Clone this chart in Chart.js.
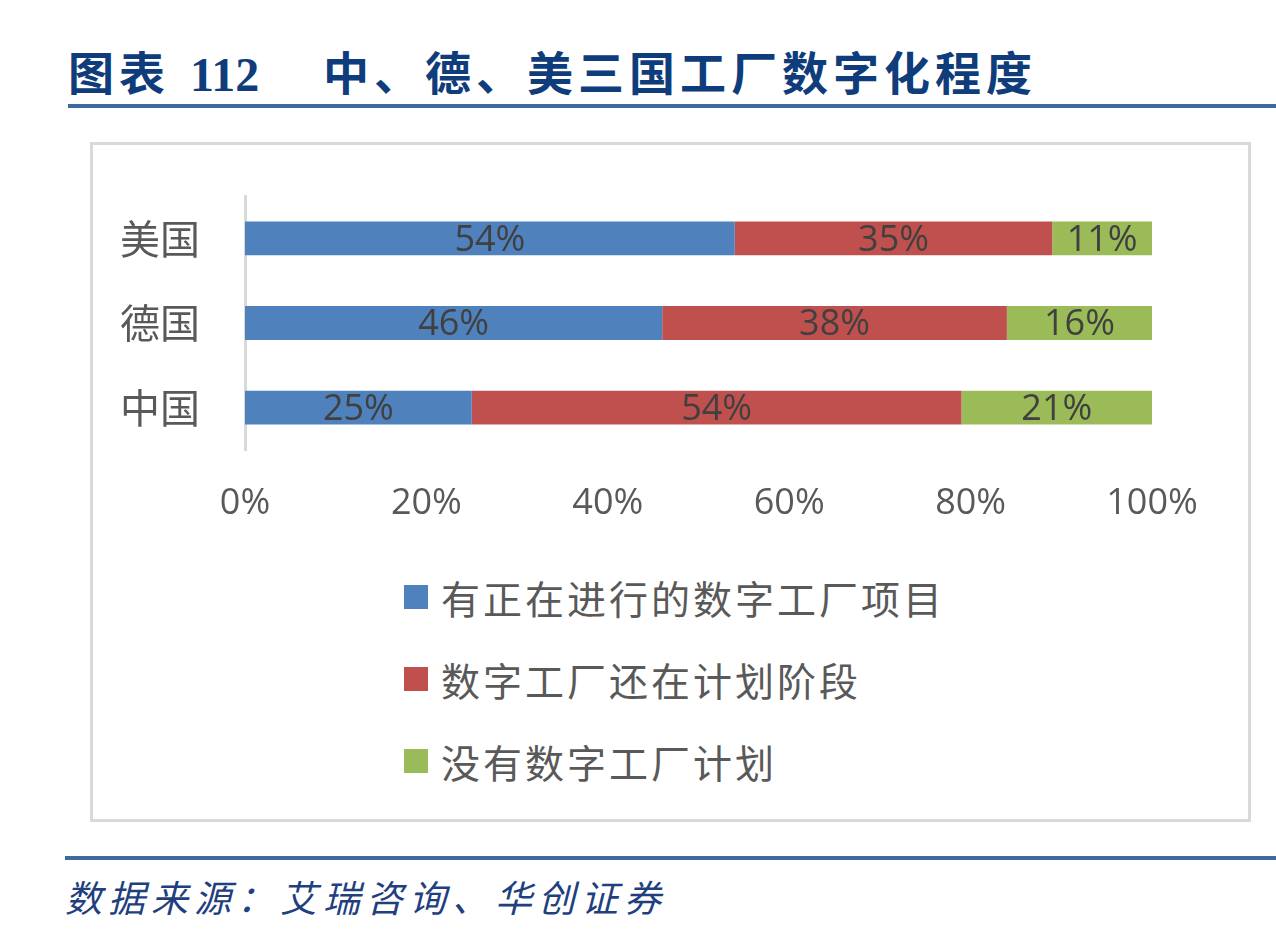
<!DOCTYPE html>
<html>
<head>
<meta charset="utf-8">
<script src="https://cdn.jsdelivr.net/npm/chart.js@4/dist/chart.umd.min.js"></script>
<style>
  body { margin: 0; width: 1276px; height: 940px; background: #fff; position: relative; overflow: hidden; }
  .title { position: absolute; top: 46px; font-family: "Liberation Serif", "Noto Sans CJK SC"; font-weight: bold; font-size: 46px; color: #0f3d7b; white-space: nowrap; line-height: 58px; letter-spacing: 5px; }
  .rule { position: absolute; height: 4px; background: #3e6a9e; right: 0; }
  .box { position: absolute; left: 90px; top: 142px; width: 1161px; height: 680px; border: 3px solid #d9d9d9; box-sizing: border-box; }
  .chart-wrap { position: absolute; left: 93px; top: 145px; width: 1155px; height: 400px; }
  .legend { position: absolute; left: 404px; top: 556px; font-family: "Noto Sans CJK SC"; font-size: 39px; color: #595959; letter-spacing: 3px; }
  .legend .item { height: 82px; display: flex; align-items: center; }
  .legend .sw { width: 24px; height: 24px; margin-right: 13px; }
  .source { position: absolute; left: 65px; top: 871px; font-family: "Noto Sans CJK SC"; font-style: italic; font-size: 37px; color: #1f3f7f; letter-spacing: 6px; line-height: 50px; }
</style>
</head>
<body>
<div class="title" style="left:68px;">图表</div>
<div class="title" style="left:190px; font-size:48px; letter-spacing:0;">112</div>
<div class="title" style="left:323px;">中、德、美三国工厂数字化程度</div>
<div class="rule" style="left:68px; top:104px;"></div>
<div class="box"></div>
<div class="chart-wrap"><canvas id="myChart"></canvas></div>
<div class="legend" id="legend"></div>
<div class="rule" style="left:65px; top:856px;"></div>
<div class="source">数据来源：艾瑞咨询、华创证券</div>
<script>
// Categories (top to bottom) and series values in percent
const countries = ['美国', '德国', '中国'];
const seriesNames = ['有正在进行的数字工厂项目', '数字工厂还在计划阶段', '没有数字工厂计划'];
const ongoing = [54, 46, 25];
const planning = [35, 38, 54];
const noPlan = [11, 16, 21];
const xTicks = [0, 20, 40, 60, 80, 100];

const colors = ['#4f81bd', '#c0504d', '#9bbb59'];

// Draw the value in the middle of each bar segment
const barLabels = {
    id: 'barLabels',
    afterDatasetsDraw(chart) {
        const ctx = chart.ctx;
        ctx.save();
        ctx.font = '36px "Open Sans"';
        ctx.fillStyle = '#404040';
        ctx.textAlign = 'center';
        ctx.textBaseline = 'middle';
        chart.data.datasets.forEach((ds, i) => {
            chart.getDatasetMeta(i).data.forEach((bar, j) => {
                const p = bar.getCenterPoint();
                ctx.fillText(ds.data[j] + '%', p.x, p.y + 2);
            });
        });
        ctx.restore();
    }
};

function createChart() {
    const ctx = document.getElementById('myChart').getContext('2d');
    const allData = [ongoing, planning, noPlan];

    const chart = new Chart(ctx, {
        type: 'bar',
        data: {
            labels: countries,
            datasets: seriesNames.map((name, i) => ({
                label: name,
                data: allData[i],
                backgroundColor: colors[i],
                borderWidth: 0,
                barPercentage: 0.4,
                categoryPercentage: 1
            }))
        },
        options: {
            indexAxis: 'y',
            responsive: true,
            maintainAspectRatio: false,
            animation: false,
            layout: { padding: { top: 51, right: 96, bottom: 5, left: 0 } },
            plugins: {
                legend: { display: false },
                tooltip: { enabled: false }
            },
            scales: {
                x: {
                    stacked: true,
                    min: 0,
                    max: 100,
                    afterBuildTicks: scale => { scale.ticks = xTicks.map(v => ({ value: v })); },
                    afterFit: scale => { scale.height = 90; },
                    grid: { display: false, drawTicks: false },
                    border: { display: false },
                    ticks: {
                        padding: 32,
                        color: '#595959',
                        font: { family: 'Open Sans', size: 36 },
                        callback: v => v + '%'
                    }
                },
                y: {
                    stacked: true,
                    // fixed width, and no extra room above/below for the labels
                    afterFit: scale => {
                        scale.width = 152;
                        scale.paddingTop = 0;
                        scale.paddingBottom = 0;
                    },
                    grid: { display: false, drawTicks: false },
                    border: { display: true, color: '#d9d9d9', width: 3 },
                    ticks: {
                        padding: 45,
                        color: '#595959',
                        font: { family: 'Noto Sans CJK SC', size: 40 }
                    }
                }
            }
        },
        plugins: [barLabels]
    });

    // Legend listed vertically under the chart
    const legend = document.getElementById('legend');
    chart.data.datasets.forEach(ds => {
        const item = document.createElement('div');
        item.className = 'item';
        item.innerHTML = '<span class="sw" style="background:' + ds.backgroundColor + '"></span>' + ds.label;
        legend.appendChild(item);
    });

    return chart;
}

createChart();
</script>
</body>
</html>
